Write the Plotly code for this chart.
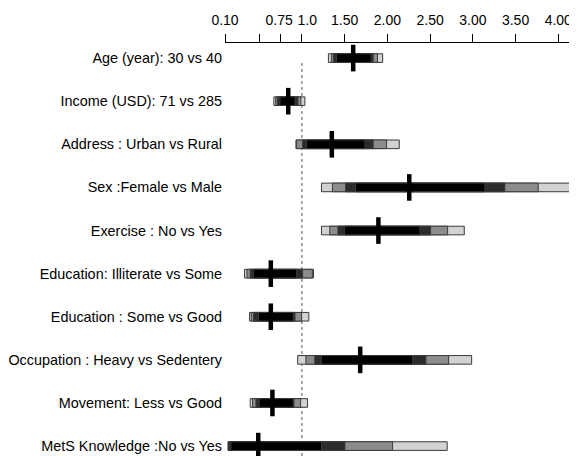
import plotly.graph_objects as go

labels = [
    "Age (year): 30 vs 40",
    "Income (USD): 71 vs 285",
    "Address : Urban vs Rural",
    "Sex :Female vs Male",
    "Exercise : No vs Yes",
    "Education: Illiterate vs Some",
    "Education : Some vs Good",
    "Occupation : Heavy vs Sedentery",
    "Movement: Less vs Good",
    "MetS Knowledge :No vs Yes",
]
point = [1.60, 0.84, 1.35, 2.256, 1.895, 0.636, 0.636, 1.682, 0.655, 0.489]
light_lo = [1.31, 0.672, 0.93, 1.229, 1.229, 0.329, 0.387, 0.95, 0.395, 0.138]
light_hi = [1.945, 1.035, 2.139, 4.16, 2.90, 1.136, 1.081, 2.986, 1.066, 2.70]
med_lo = [1.345, 0.694, 0.938, 1.357, 1.326, 0.357, 0.407, 1.047, 0.422, 0.138]
med_hi = [1.884, 0.988, 1.991, 3.765, 2.705, 1.122, 0.996, 2.717, 0.985, 2.061]
dark_lo = [1.369, 0.713, 1.008, 1.512, 1.422, 0.395, 0.434, 1.151, 0.462, 0.138]
dark_hi = [1.834, 0.953, 1.834, 3.375, 2.506, 1.008, 0.919, 2.451, 0.907, 1.503]
black_lo = [1.404, 0.744, 1.055, 1.628, 1.50, 0.434, 0.492, 1.229, 0.50, 0.17]
black_hi = [1.81, 0.919, 1.737, 3.141, 2.381, 0.938, 0.899, 2.295, 0.899, 1.229]

tick_vals = [0.10, 0.50, 0.75, 1.0, 1.50, 2.00, 2.50, 3.00, 3.50, 4.00]
tick_text = ["0.10", "", "0.75\u2009", "\u00a0\u00a0\u20091.0", "1.50", "2.00", "2.50",
             "3.00", "3.50", "4.00"]

fig = go.Figure()
layers = [
    (light_lo, light_hi, "#d2d2d2"),
    (med_lo, med_hi, "#8c8c8c"),
    (dark_lo, dark_hi, "#2c2c2c"),
    (black_lo, black_hi, "#000000"),
]
for lo, hi, col in layers:
    fig.add_trace(go.Bar(
        y=labels, x=[h - l for l, h in zip(lo, hi)], base=lo,
        orientation="h", width=0.2,
        marker=dict(color=col, line=dict(color="#3a3a3a", width=1)),
        showlegend=False, hoverinfo="skip",
    ))

fig.add_trace(go.Scatter(
    x=point, y=labels, mode="markers",
    marker=dict(symbol="line-ns", size=19, line=dict(color="black", width=4.5)),
    showlegend=False, cliponaxis=False,
))

fig.add_shape(type="line", x0=1.0, x1=1.0, xref="x", yref="paper", y0=0, y1=0.958,
              line=dict(color="#555555", width=1, dash="3px,3px"), layer="below")

# the page body adds an 8px offset; margins compensate for it
fig.update_layout(
    width=577, height=456,
    margin=dict(l=217, r=8, t=35, b=8, autoexpand=False),
    paper_bgcolor="white", plot_bgcolor="white",
    barmode="overlay",
    font=dict(family="Liberation Sans, Arial, sans-serif", size=14, color="#000000"),
    xaxis=dict(
        side="top", range=[0.1, 4.219], tickvals=tick_vals, ticktext=tick_text,
        tickangle=0, automargin=False,
        ticks="outside", ticklen=8, tickcolor="black", tickwidth=1,
        showline=True, linecolor="black", linewidth=1,
        showgrid=False, zeroline=False, ticklabelstandoff=3,
        tickfont=dict(size=14, color="#000000"),
    ),
    yaxis=dict(
        type="category", categoryorder="array", categoryarray=labels,
        range=[9.23, -0.35], showgrid=False, zeroline=False, showline=False,
        automargin=False,
        ticks="", ticklabelstandoff=2, tickfont=dict(size=14.4, color="#000000"),
    ),
)

fig.write_html("out.html")
